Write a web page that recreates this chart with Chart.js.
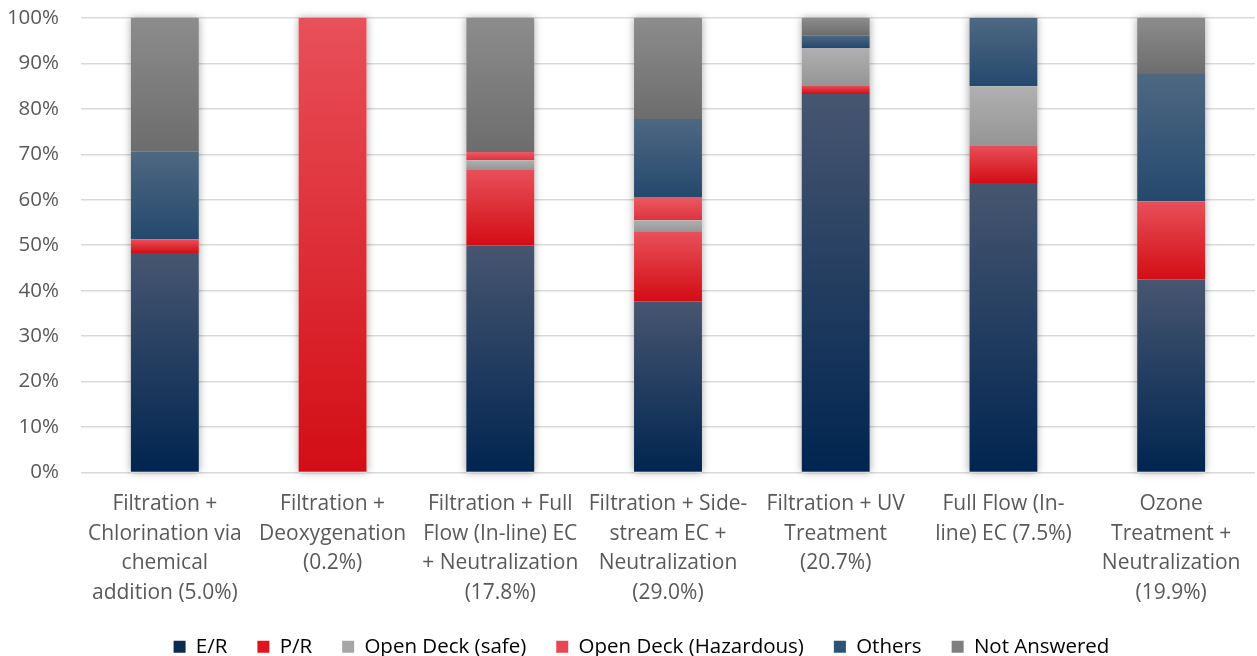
<!DOCTYPE html>
<html>
<head>
<meta charset="utf-8">
<script src="https://cdn.jsdelivr.net/npm/chart.js@4"></script>
<style>
  html, body { margin: 0; padding: 0; background: #fff; }
  #wrap { width: 1257px; height: 656px; }
</style>
</head>
<body>
<div id="wrap"><canvas id="chart"></canvas></div>
<script>
let categories = [
    ['Filtration +', 'Chlorination via', 'chemical', 'addition (5.0%)'],
    ['Filtration +', 'Deoxygenation', '(0.2%)'],
    ['Filtration + Full', 'Flow (In-line) EC', '+ Neutralization', '(17.8%)'],
    ['Filtration + Side-', 'stream EC +', 'Neutralization', '(29.0%)'],
    ['Filtration + UV', 'Treatment', '(20.7%)'],
    ['Full Flow (In-', 'line) EC (7.5%)'],
    ['Ozone', 'Treatment +', 'Neutralization', '(19.9%)']
];

let erValues = [48.3, 0, 50.0, 37.7, 83.3, 63.7, 42.5];
let prValues = [3.0, 100, 16.7, 15.2, 1.9, 8.3, 17.2];
let safeValues = [0, 0, 2.0, 2.6, 8.2, 13.0, 0];
let hazardValues = [0, 0, 1.8, 5.1, 0, 0, 0];
let othersValues = [19.4, 0, 0, 17.2, 2.8, 15.0, 28.0];
let notAnsweredValues = [29.3, 0, 29.5, 22.2, 3.8, 0, 12.3];

let yTicks = ['0%', '10%', '20%', '30%', '40%', '50%', '60%', '70%', '80%', '90%', '100%'];

let seriesNames = ['E/R', 'P/R', 'Open Deck (safe)', 'Open Deck (Hazardous)', 'Others', 'Not Answered'];
let seriesValues = [erValues, prValues, safeValues, hazardValues, othersValues, notAnsweredValues];
// flat colour, gradient top, gradient bottom
let seriesColors = [
    ['#0d2a52', '#475670', '#002550'],
    ['#e0141c', '#e8505a', '#d30d15'],
    ['#a6a6a6', '#b0b0b0', '#959595'],
    ['#e64853', '#ea5a63', '#de3340'],
    ['#2e5274', '#4f6882', '#24496d'],
    ['#7f7f7f', '#8c8c8c', '#6d6d6d']
];

function segmentFill(context) {
    let chart = context.chart;
    let ds = context.datasetIndex;
    let i = context.dataIndex;
    let colors = seriesColors[ds];
    if (!chart.chartArea || i === undefined) {
        return colors[0];
    }
    let base = 0;
    for (let k = 0; k < ds; k++) {
        base += seriesValues[k][i];
    }
    let top = base + seriesValues[ds][i];
    let y = chart.scales.y;
    let y0 = y.getPixelForValue(top);
    let y1 = y.getPixelForValue(base);
    if (y1 - y0 < 1) {
        return colors[0];
    }
    let g = chart.ctx.createLinearGradient(0, y0, 0, y1);
    g.addColorStop(0, colors[1]);
    g.addColorStop(1, colors[2]);
    return g;
}

// soft shadow behind each whole stacked column
const columnShadow = {
    id: 'columnShadow',
    beforeDatasetsDraw(chart) {
        let ctx = chart.ctx;
        let meta = chart.getDatasetMeta(0);
        let y = chart.scales.y;
        ctx.save();
        ctx.shadowColor = 'rgba(0, 0, 0, 0.35)';
        ctx.shadowBlur = 8;
        ctx.fillStyle = '#ffffff';
        meta.data.forEach((bar, i) => {
            let total = 0;
            seriesValues.forEach(v => total += v[i]);
            let top = y.getPixelForValue(Math.min(total, 100));
            let bottom = y.getPixelForValue(0);
            ctx.fillRect(bar.x - bar.width / 2, top, bar.width, bottom - top);
        });
        ctx.restore();
    }
};

// nudge the legend a little to the right, like the original
const legendShift = {
    id: 'legendShift',
    afterLayout(chart) {
        if (chart.legend) {
            chart.legend.left += 28;
        }
    }
};

let datasets = seriesNames.map((name, k) => ({
    label: name,
    data: seriesValues[k],
    backgroundColor: segmentFill,
    borderWidth: 0,
    categoryPercentage: 1,
    barPercentage: 0.405
}));

Chart.defaults.font.family = '"Open Sans", "Noto Sans", sans-serif';
Chart.defaults.color = '#595959';

new Chart(document.getElementById('chart'), {
    type: 'bar',
    data: {
        labels: categories,
        datasets: datasets
    },
    options: {
        responsive: true,
        maintainAspectRatio: false,
        animation: false,
        layout: {
            padding: { left: 0, right: 2, top: 18, bottom: -11 }
        },
        plugins: {
            legend: {
                position: 'bottom',
                labels: {
                    boxWidth: 12,
                    boxHeight: 12,
                    padding: 30,
                    font: { size: 20.5 },
                    color: '#595959',
                    generateLabels(chart) {
                        return seriesNames.map((name, k) => ({
                            text: name,
                            fillStyle: seriesColors[k][0],
                            strokeStyle: seriesColors[k][0],
                            lineWidth: 0,
                            hidden: false,
                            datasetIndex: k
                        }));
                    }
                }
            },
            tooltip: { enabled: false }
        },
        scales: {
            x: {
                stacked: true,
                grid: { display: false },
                border: { display: false },
                afterFit(scale) { scale.height = scale.height - 10; },
                ticks: {
                    font: { size: 21, lineHeight: 1.405 },
                    padding: 9,
                    color: '#595959',
                    maxRotation: 0,
                    autoSkip: false
                }
            },
            y: {
                stacked: true,
                min: 0,
                max: 100,
                grid: { color: '#d9d9d9', lineWidth: 1.5, drawTicks: false },
                border: { display: false },
                afterFit(scale) {
                    scale.width = 81;
                    scale.paddingTop = 0;
                    scale.paddingBottom = 0;
                },
                ticks: {
                    stepSize: 10,
                    padding: 22,
                    font: { size: 20.5 },
                    color: '#595959',
                    callback: (value) => yTicks[Math.round(value / 10)]
                }
            }
        }
    },
    plugins: [columnShadow, legendShift]
});
</script>
</body>
</html>
